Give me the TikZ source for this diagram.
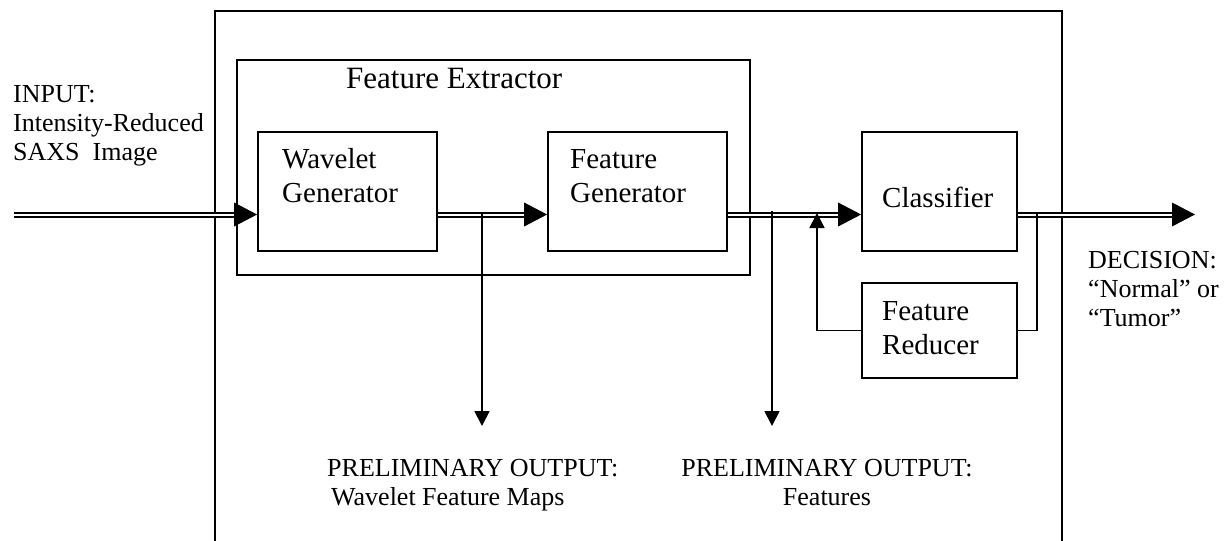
\documentclass[tikz,border=0pt]{standalone}
\usepackage{fontspec}
\setmainfont{Liberation Serif}
\usetikzlibrary{arrows.meta}
\tikzset{
  blk/.style={draw, line width=1.8pt, inner sep=0pt},
  dbl/.style={draw, double, line width=2pt, double distance=2pt},
  thinln/.style={draw, line width=1.8pt},
  tiparrow/.style={-{Triangle[length=15pt,width=15pt]}},
  txt/.style={inner sep=0pt, font=\fontsize{26}{29}\selectfont},
  btxt/.style={inner sep=0pt, align=left, font=\fontsize{29}{34}\selectfont},
  bigtip/.pic={\fill (0,0) -- (-23,-12) -- (-23,12) -- cycle;}
}
\begin{document}
\begin{tikzpicture}[x=1pt,y=-1pt]
\useasboundingbox (0,0) rectangle (1232,541);
% outer frame (bottom edge lies outside the picture)
\draw[thinln] (215,541) -- (215,11) -- (1062,11) -- (1062,541);
% blocks
\node[blk, minimum width=513pt, minimum height=215pt] (fe) at (493.5,167.5) {};
\node[blk, minimum width=179pt, minimum height=119pt] (wg) at (347.5,191.5) {};
\node[blk, minimum width=179pt, minimum height=119pt] (fg) at (637.5,191.5) {};
\node[blk, minimum width=155pt, minimum height=119pt] (cl) at (939.5,191.5) {};
\node[blk, minimum width=155pt, minimum height=95pt] (fr) at (939.5,330.5) {};
% texts
\node[inner sep=0pt, anchor=base west, font=\fontsize{31}{36}\selectfont] (fet) at (346,88) {Feature Extractor};
\node[btxt, anchor=base west] (wgt) at (282,202) {Wavelet\\Generator};
\node[btxt, anchor=base west] (fgt) at (570,202) {Feature\\Generator};
\node[btxt, anchor=base west] (clt) at (882,207) {Classifier};
\node[btxt, anchor=base west] (frt) at (882,354) {Feature\\Reducer};
\node[txt, anchor=base west, align=left] (inp) at (13,160) {INPUT:\\Intensity-Reduced\\SAXS\ \ Image};
\node[txt, anchor=base west, align=left] (dec) at (1088,326) {DECISION:\\“Normal” or\\“Tumor”};
\node[txt, anchor=base west, align=left] (po1) at (327,505) {PRELIMINARY OUTPUT:\\\hspace*{4pt}Wavelet Feature Maps};
\node[txt, anchor=base, align=center] (po2) at (827,505) {PRELIMINARY OUTPUT:\\Features};
% main line coordinates
\coordinate (m) at (0,214.5);
\coordinate (inS) at (14,214.5);
\coordinate (outE) at (1195,214.5);
% double-line connectors
\draw[dbl, shorten >=21pt] (inS) -- (wg.west|-m);
\draw[dbl, shorten >=21pt] (wg.east|-m) -- (fg.west|-m);
\draw[dbl, shorten >=21pt] (fg.east|-m) -- (cl.west|-m);
\draw[dbl, shorten >=21pt] (cl.east|-m) -- (outE);
\pic at (wg.west|-m) {bigtip};
\pic at (fg.west|-m) {bigtip};
\pic at (cl.west|-m) {bigtip};
\pic at (outE) {bigtip};
% branches
\coordinate (b1) at (482,213);
\coordinate (b1e) at (482,426);
\coordinate (b2) at (772,211);
\coordinate (b2e) at (772,426);
\draw[thinln, tiparrow] (b1) -- (b1e);
\draw[thinln, tiparrow] (b2) -- (b2e);
% feedback loop
\coordinate (fb1) at (1037,213);
\coordinate (fb2) at (817,213);
\draw[thinln] (fb1) |- (fr.east);
\draw[thinln, tiparrow] (fr.west) -| (fb2);
\end{tikzpicture}
\end{document}
